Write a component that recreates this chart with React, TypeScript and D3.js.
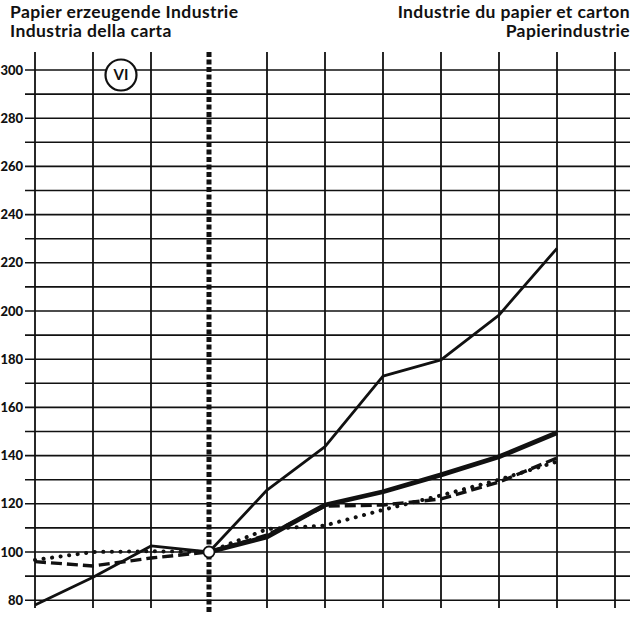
import React from 'react';
import * as d3 from 'd3';

// periods along the x axis (11 grid lines, base period at index 3)
const periods = [0, 1, 2, 3, 4, 5, 6, 7, 8, 9, 10];
const basePeriod = 3;

// index values (base = 100)
const seriesThin = [78, 89.5, 102.5, 100, 125.7, 143.7, 173, 179.7, 198.3, 226];
const seriesThick = [null, null, null, 100, 106.3, 119.5, 125, 132, 139.5, 149.5];
const seriesDashed = [96, 94.2, 97.5, 100, 107, 119, 119.5, 122, 129, 139];
const seriesDotted = [96.7, 100, 100.3, 100, 109.5, 111, 117.5, 123.5, 130, 137.5];

const gridValues = d3.range(80, 301, 10);
const tickLabels = [80, 100, 120, 140, 160, 180, 200, 220, 240, 260, 280, 300];

const titleLeft = ['Papier erzeugende Industrie', 'Industria della carta'];
const titleRight = ['Industrie du papier et carton', 'Papierindustrie'];

const W = 635;
const H = 619;
const font = 'Lato, "Open Sans", sans-serif';

const App: React.FC = () => {
  const x = d3.scaleLinear().domain([0, 10]).range([35, 615]);
  const y = d3.scaleLinear().domain([100, 300]).range([552, 70]);

  const line = d3
    .line<number | null>()
    .defined(d => d !== null)
    .x((_, i) => x(periods[i]))
    .y(d => y(d as number));

  return (
    <svg
      width={W}
      height={H}
      style={{ position: 'absolute', left: 0, top: 0, background: '#fff' }}
      fontFamily={font}
    >
      {/* titles */}
      <g fontWeight="bold" fontSize={17.5} fill="#111" letterSpacing={0.4}>
        <text x={10} y={18}>{titleLeft[0]}</text>
        <text x={10} y={37}>{titleLeft[1]}</text>
        <text x={630} y={18} textAnchor="end">{titleRight[0]}</text>
        <text x={630} y={37} textAnchor="end">{titleRight[1]}</text>
      </g>

      {/* horizontal grid */}
      <g stroke="#111" strokeWidth={1.6}>
        {gridValues.map(v => (
          <line key={v} x1={25} x2={630} y1={y(v)} y2={y(v)} />
        ))}
      </g>

      {/* y labels */}
      <g fontWeight="900" fontSize={13} fill="#111" textAnchor="end">
        {tickLabels.map(v => (
          <text key={v} x={23} y={y(v)} dy="0.36em">{v}</text>
        ))}
      </g>

      {/* vertical grid */}
      <g stroke="#111" strokeWidth={1.8}>
        {periods
          .filter(p => p !== basePeriod)
          .map(p => (
            <line key={p} x1={x(p)} x2={x(p)} y1={52} y2={608} />
          ))}
      </g>
      <line
        x1={x(basePeriod)}
        x2={x(basePeriod)}
        y1={52}
        y2={612}
        stroke="#111"
        strokeWidth={5}
        strokeDasharray="5 2.5"
      />

      {/* series */}
      <g fill="none" stroke="#111" strokeLinejoin="round">
        <path d={line(seriesDotted) ?? ''} strokeWidth={4} strokeLinecap="round" strokeDasharray="0.1 8.5" />
        <path d={line(seriesDashed) ?? ''} strokeWidth={3.4} strokeDasharray="11 5" />
        <path d={line(seriesThin) ?? ''} strokeWidth={2.8} />
        <path d={line(seriesThick) ?? ''} strokeWidth={4.8} />
      </g>

      {/* base point */}
      <circle cx={x(basePeriod)} cy={y(100)} r={5.5} fill="#fff" stroke="#111" strokeWidth={1.8} />

      {/* panel marker */}
      <circle cx={121} cy={75} r={15.5} fill="#fff" stroke="#111" strokeWidth={2.2} />
      <text x={121} y={75} dy="0.36em" textAnchor="middle" fontWeight="bold" fontSize={15} fill="#111">VI</text>
    </svg>
  );
};

export default App;
